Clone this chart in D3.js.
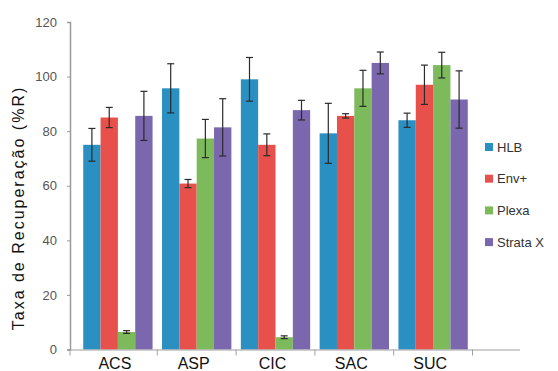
<!DOCTYPE html>
<html>
<head>
<meta charset="utf-8">
<script src="https://cdn.jsdelivr.net/npm/d3@7"></script>
<style>
  body { margin: 0; background: #fff; }
  svg { display: block; font-family: "Liberation Sans", Arial, sans-serif; }
</style>
</head>
<body>
<div id="chart"></div>
<script>
// Categories (analytes) and sorbents
const categories = ["ACS", "ASP", "CIC", "SAC", "SUC"];
const series = ["HLB", "Env+", "Plexa", "Strata X"];
const colors = ["#2a8fc1", "#e8514b", "#7dba5b", "#7a67ad"];

// Recovery (%R) per series, in category order
const hlb = [75, 95.7, 99, 79.2, 84];
const envPlus = [85, 60.8, 75, 85.6, 97];
const plexa = [6.4, 77.3, 4.5, 95.7, 104.2];
const strataX = [85.6, 81.4, 87.7, 105, 91.6];

// Error bar half-widths
const hlbErr = [6, 9, 8, 11, 2.6];
const envPlusErr = [3.7, 1.5, 4, 0.8, 7.2];
const plexaErr = [0.5, 7, 0.5, 6.6, 4.7];
const strataXErr = [9, 10.5, 3.6, 4, 10.5];

const yTicks = [0, 20, 40, 60, 80, 100, 120];

const values = [hlb, envPlus, plexa, strataX];
const errors = [hlbErr, envPlusErr, plexaErr, strataXErr];

const width = 558, height = 371;
const axisX = 70;

const svg = d3.select("#chart").append("svg")
    .attr("width", width)
    .attr("height", height);

// Scales
const x0 = d3.scaleBand()
    .domain(categories)
    .range([78.5, 472.5])
    .paddingInner(0.12)
    .paddingOuter(0.06);

const x1 = d3.scaleBand()
    .domain(series)
    .range([0, x0.bandwidth()]);

const y = d3.scaleLinear()
    .domain([0, 120])
    .range([349.5, 22]);

// Bars
categories.forEach((cat, ci) => {
    const g = svg.append("g").attr("transform", "translate(" + x0(cat) + ",0)");
    series.forEach((s, si) => {
        const v = values[si][ci];
        g.append("rect")
            .attr("x", x1(s))
            .attr("y", y(v))
            .attr("width", x1.bandwidth())
            .attr("height", y(0) - y(v))
            .attr("fill", colors[si]);
    });
});

// Error bars
categories.forEach((cat, ci) => {
    series.forEach((s, si) => {
        const v = values[si][ci];
        const e = errors[si][ci];
        const cx = x0(cat) + x1(s) + x1.bandwidth() / 2;
        const g = svg.append("g")
            .attr("stroke", "#2b2b2b")
            .attr("stroke-width", 1.2);
        g.append("line")
            .attr("x1", cx).attr("x2", cx)
            .attr("y1", y(v + e)).attr("y2", y(v - e));
        g.append("line")
            .attr("x1", cx - 3.5).attr("x2", cx + 3.5)
            .attr("y1", y(v + e)).attr("y2", y(v + e));
        g.append("line")
            .attr("x1", cx - 3.5).attr("x2", cx + 3.5)
            .attr("y1", y(v - e)).attr("y2", y(v - e));
    });
});

// Y axis
const yAxis = svg.append("g")
    .attr("transform", "translate(" + axisX + ",0)")
    .call(d3.axisLeft(y).tickValues(yTicks).tickSize(3).tickPadding(10));
yAxis.select(".domain").attr("stroke", "#9a9a9a").attr("stroke-width", 1.5);
yAxis.selectAll(".tick line").attr("stroke", "#9a9a9a");
yAxis.selectAll("text")
    .attr("fill", "#555")
    .style("font-size", "13px");

// X axis line and category separators
svg.append("line")
    .attr("x1", axisX - 3).attr("x2", 520)
    .attr("y1", y(0) + 0.5).attr("y2", y(0) + 0.5)
    .attr("stroke", "#a0a0a0")
    .attr("stroke-width", 1.2);

categories.forEach((cat, ci) => {
    const bx = ci === 0 ? axisX : x0(cat) - x0.step() * x0.paddingInner() / 2;
    svg.append("line")
        .attr("x1", bx).attr("x2", bx)
        .attr("y1", y(0)).attr("y2", y(0) + 6)
        .attr("stroke", "#a0a0a0");
});
const lastX = x0(categories[4]) + x0.bandwidth() + x0.step() * x0.paddingInner() / 2;
svg.append("line")
    .attr("x1", lastX).attr("x2", lastX)
    .attr("y1", y(0)).attr("y2", y(0) + 6)
    .attr("stroke", "#a0a0a0");

// Category labels
svg.selectAll(".cat")
    .data(categories)
    .enter().append("text")
    .attr("x", d => x0(d) + x0.bandwidth() / 2 - 3)
    .attr("y", 369)
    .attr("text-anchor", "middle")
    .attr("fill", "#111")
    .style("font-size", "16px")
    .text(d => d);

// Y axis title
svg.append("text")
    .attr("transform", "translate(24,208) rotate(-90)")
    .attr("text-anchor", "middle")
    .attr("fill", "#111")
    .style("font-size", "16px")
    .style("letter-spacing", "2px")
    .text("Taxa de Recuperação (%R)");

// Legend
const legend = svg.append("g").attr("transform", "translate(485,147)");
series.forEach((s, i) => {
    const row = legend.append("g").attr("transform", "translate(0," + (i * 31.7) + ")");
    row.append("rect")
        .attr("x", 0).attr("y", -4)
        .attr("width", 8).attr("height", 8)
        .attr("fill", colors[i]);
    row.append("text")
        .attr("x", 12)
        .attr("y", 0)
        .attr("dy", "0.35em")
        .attr("fill", "#333")
        .style("font-size", "13px")
        .text(s);
});
</script>
</body>
</html>
